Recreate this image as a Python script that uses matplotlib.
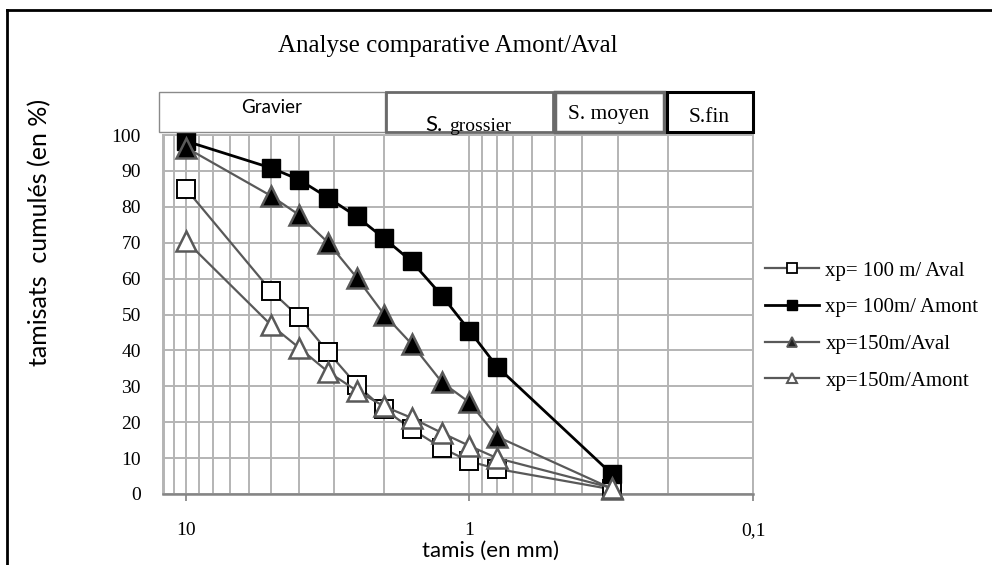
import matplotlib
matplotlib.use("Agg")
import matplotlib.pyplot as plt
from matplotlib.lines import Line2D
from matplotlib.patches import Rectangle
from matplotlib.ticker import FixedLocator, NullFormatter

# ---- data ----
sieves = [10, 5, 4, 3.15, 2.5, 2, 1.6, 1.25, 1, 0.8, 0.315]
aval_100 = [85, 56.5, 49.4, 39.5, 30.4, 23.6, 18.1, 12.8, 9.1, 7, 1.3]
amont_100 = [98.3, 90.8, 87.6, 82.5, 77.3, 71.2, 64.8, 55.2, 45.5, 35.5, 5.6]
aval_150 = [96.5, 83, 77.8, 70, 60.3, 50, 41.8, 31.1, 25.5, 16, 1.5]
amont_150 = [70.5, 47, 40.8, 34, 28.8, 24.4, 21.2, 17, 13.4, 10, 1.7]
labels = ["xp= 100 m/ Aval", "xp= 100m/ Amont", "xp=150m/Aval", "xp=150m/Amont"]
x_major = [10, 1, 0.1]
x_major_labels = ["10", "1", "0,1"]
y_ticks = [0, 10, 20, 30, 40, 50, 60, 70, 80, 90, 100]
classes = ["Gravier", "S. moyen", "S.fin"]

W, H = 992, 565
SERIF = "Liberation Serif"
SANS = "Lato"
GRID = "#b4b4b4"
DG = "#595959"

def fx(px):
    return px / W

def fy(py):
    return 1 - py / H

fig = plt.figure(figsize=(W / 100, H / 100), dpi=100)
ax = fig.add_axes([fx(163), fy(494), fx(753) - fx(163), fy(135) - fy(494)])

ax.set_xscale("log")
ax.set_xlim(12.05, 0.1)
ax.set_ylim(0, 100)

minor = [m * 10 ** e for e in (-1, 0) for m in range(2, 10)] + [11, 12]
ax.xaxis.set_major_locator(FixedLocator(x_major))
ax.xaxis.set_minor_locator(FixedLocator(minor))
ax.xaxis.set_minor_formatter(NullFormatter())
ax.set_xticklabels(x_major_labels, fontfamily=SERIF, fontsize=14)
ax.set_yticks(y_ticks)
ax.set_yticklabels([str(v) for v in y_ticks], fontfamily=SERIF, fontsize=14)
ax.tick_params(axis="x", which="major", length=5, width=1.3, color="#8a8a8a", pad=15)
ax.tick_params(axis="x", which="minor", length=0)
ax.tick_params(axis="y", length=0, pad=16)
ax.grid(which="major", axis="both", color=GRID, lw=1.4)
ax.grid(which="minor", axis="x", color=GRID, lw=1.4)
ax.set_axisbelow(True)
for s in ("top", "right"):
    ax.spines[s].set_color(GRID)
    ax.spines[s].set_linewidth(1.4)
ax.spines["left"].set_color(GRID)
ax.spines["left"].set_linewidth(1.4)
ax.spines["bottom"].set_color("#858585")
ax.spines["bottom"].set_linewidth(1.8)

ax.plot(sieves, aval_100, color=DG, lw=1.6, marker="s", ms=13.5, mfc="white",
        mec="black", mew=1.4, clip_on=False, zorder=3)
ax.plot(sieves, amont_100, color="black", lw=2.0, marker="s", ms=13.5, mfc="black",
        mec="black", clip_on=False, zorder=3)
ax.plot(sieves, aval_150, color=DG, lw=1.6, marker="^", ms=15, mfc="black",
        mec=DG, mew=1.8, clip_on=False, zorder=3)
ax.plot(sieves, amont_150, color=DG, lw=1.6, marker="^", ms=15, mfc="white",
        mec=DG, mew=1.8, clip_on=False, zorder=3)

# legend with smaller markers
handles = [
    Line2D([], [], color=DG, lw=1.6, marker="s", ms=6.5, mfc="white", mec="black", mew=1.3),
    Line2D([], [], color="black", lw=2.0, marker="s", ms=7, mfc="black", mec="black"),
    Line2D([], [], color=DG, lw=1.6, marker="^", ms=7.5, mfc="#222222", mec=DG, mew=1.3),
    Line2D([], [], color=DG, lw=1.6, marker="^", ms=7.5, mfc="white", mec=DG, mew=1.5),
]
fig.legend(handles, labels, loc="center left", bbox_to_anchor=(fx(765), fy(326)),
           frameon=False, prop={"family": SERIF, "size": 15}, handlelength=2.6,
           handletextpad=0.3, labelspacing=0.82, borderpad=0, borderaxespad=0)

# class boxes
boxes = [(159, 385, "#8a8a8a", 1.0), (386, 553, "#6a6a6a", 2.0),
         (555, 664, "#6a6a6a", 2.5), (667, 753, "black", 2.2)]
for x0, x1, c, lw in boxes:
    fig.add_artist(Rectangle((fx(x0), fy(132)), fx(x1) - fx(x0), fy(92) - fy(132),
                             transform=fig.transFigure, facecolor="white",
                             edgecolor=c, lw=lw, zorder=5))
fig.text(fx(272), fy(108), classes[0], family=SANS, fontsize=13.5, ha="center",
         va="center", zorder=6)
fig.text(fx(443), fy(131), "S.", family=SANS, fontsize=16, ha="right",
         va="baseline", zorder=6)
fig.text(fx(449), fy(131), "grossier", family=SERIF, fontsize=14, ha="left",
         va="baseline", zorder=6)
fig.text(fx(609), fy(114), classes[1], family=SERIF, fontsize=15.5, ha="center",
         va="center", zorder=6)
fig.text(fx(709), fy(117), classes[2], family=SERIF, fontsize=15.5, ha="center",
         va="center", zorder=6)

# titles
fig.text(fx(448), fy(46), "Analyse comparative Amont/Aval", family=SERIF,
         fontsize=18, ha="center", va="center")
fig.text(fx(490), fy(551), "tamis (en mm)", family=SANS, fontsize=16,
         ha="center", va="center")
fig.text(fx(40), fy(232), "tamisats  cumulés (en %)", family=SANS, fontsize=18,
         ha="center", va="center", rotation=90)

# outer frame (top and left only)
fig.add_artist(Line2D([fx(7), 1], [fy(10), fy(10)], transform=fig.transFigure,
                      color="black", lw=2))
fig.add_artist(Line2D([fx(7), fx(7)], [0, fy(10)], transform=fig.transFigure,
                      color="black", lw=2))

fig.savefig("out.png", dpi=100)
